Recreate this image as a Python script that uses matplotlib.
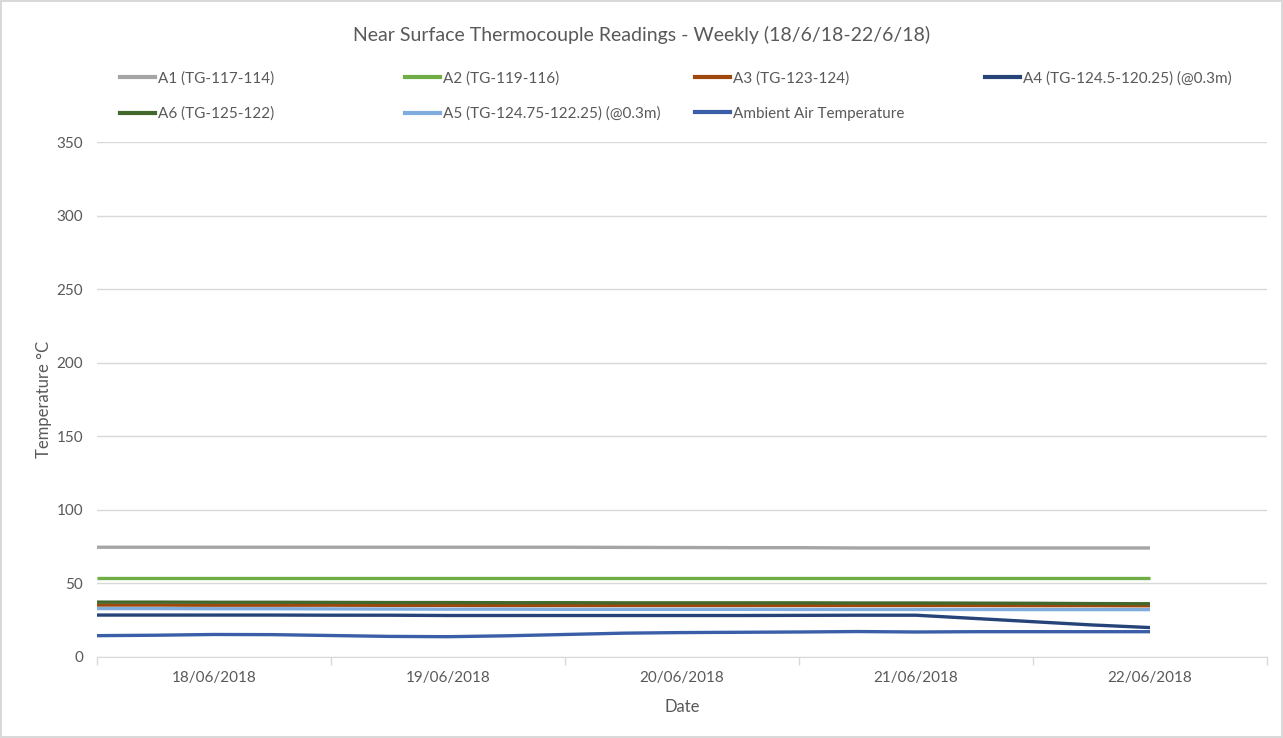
import matplotlib.pyplot as plt
import matplotlib.dates as mdates
from matplotlib.lines import Line2D
import pandas as pd

# readings every 6 hours, 18/06/2018 00:00 to 22/06/2018 12:00
times = pd.date_range("2018-06-18 00:00", "2018-06-22 12:00", freq="6h")

a1 = [74.6, 74.6, 74.6, 74.6, 74.6, 74.6, 74.6, 74.6, 74.6, 74.5,
      74.4, 74.3, 74.3, 74.1, 74.1, 74.1, 74.1, 74.1, 74.1]
a2 = [54.0, 54.0, 54.0, 54.0, 54.0, 54.0, 54.0, 54.0, 54.0, 54.0,
      54.0, 54.0, 54.0, 54.0, 54.0, 54.0, 54.0, 54.0, 54.0]
a3 = [35.3, 35.3, 35.2, 35.2, 35.2, 35.1, 35.1, 35.0, 35.0, 35.0,
      35.0, 35.0, 35.0, 35.0, 35.0, 35.0, 34.9, 34.9, 34.8]
a4 = [28.5, 28.5, 28.5, 28.5, 28.4, 28.4, 28.2, 28.2, 28.2, 28.2,
      28.2, 28.2, 28.3, 28.4, 28.4, 26.2, 24.0, 21.8, 20.0]
a6 = [37.3, 37.3, 37.2, 37.2, 37.1, 37.0, 37.0, 36.9, 36.9, 36.8,
      36.8, 36.8, 36.8, 36.7, 36.7, 36.6, 36.5, 36.3, 36.2]
a5 = [32.9, 32.9, 32.8, 32.8, 32.7, 32.6, 32.5, 32.5, 32.4, 32.4,
      32.4, 32.4, 32.3, 32.3, 32.3, 32.3, 32.2, 32.2, 32.2]
ambient = [14.5, 14.8, 15.3, 15.2, 14.6, 14.0, 13.8, 14.4, 15.3, 16.2,
           16.6, 16.8, 17.0, 17.3, 17.0, 17.2, 17.2, 17.2, 17.2]

series = [
    ("A1 (TG-117-114)", a1, "#A5A5A5"),
    ("A2 (TG-119-116)", a2, "#70AD47"),
    ("A3 (TG-123-124)", a3, "#9E480E"),
    ("A4 (TG-124.5-120.25) (@0.3m)", a4, "#264478"),
    ("A6 (TG-125-122)", a6, "#43682B"),
    ("A5 (TG-124.75-122.25) (@0.3m)", a5, "#7FAEDE"),
    ("Ambient Air Temperature", ambient, "#3A5FA8"),
]

TEXT = "#595959"
GRID = "#D9D9D9"

plt.rcParams["font.family"] = ["Lato", "DejaVu Sans"]

fig = plt.figure(figsize=(12.83, 7.38), dpi=100)
fig.patch.set_edgecolor(GRID)
fig.patch.set_linewidth(1.5)
ax = fig.add_axes([97 / 1283, 1 - 657 / 738, (1267 - 97) / 1283, (657 - 142) / 738])

for name, vals, col in series:
    ax.plot(times, vals, color=col, lw=2.4, label=name, solid_capstyle="butt")

ax.set_ylim(0, 350)
ax.set_yticks(range(0, 351, 50))
ax.set_xlim(pd.Timestamp("2018-06-18"), pd.Timestamp("2018-06-23"))
ax.xaxis.set_major_locator(mdates.DayLocator())
ax.xaxis.set_major_formatter(plt.NullFormatter())
ax.xaxis.set_minor_locator(mdates.HourLocator(byhour=[12]))
ax.xaxis.set_minor_formatter(mdates.DateFormatter("%d/%m/%Y"))
ax.tick_params(axis="x", which="major", length=6, color=GRID, width=1)
ax.tick_params(axis="x", which="minor", length=0, pad=10, labelsize=11, labelcolor=TEXT)
ax.tick_params(axis="y", length=0, pad=10, labelsize=11, labelcolor=TEXT)
ax.grid(axis="y", color=GRID, lw=1)
ax.set_axisbelow(True)
for s in ["top", "right", "left"]:
    ax.spines[s].set_visible(False)
ax.spines["bottom"].set_color(GRID)

ax.set_xlabel("Date", color=TEXT, fontsize=12, labelpad=10)
ax.set_ylabel("Temperature °C", color=TEXT, fontsize=12)
ax.yaxis.set_label_coords(-45 / 1170, 0.5)
fig.text(0.5, 1 - 35 / 738, "Near Surface Thermocouple Readings - Weekly (18/6/18-22/6/18)",
         ha="center", va="center", color=TEXT, fontsize=14)

# legend: 4 columns laid out row-wise like the original
cols = [[0, 4], [1, 5], [2, 6], [3]]
col_x = [120, 405, 695, 985]
for xs, idx in zip(col_x, cols):
    handles = [Line2D([], [], color=series[i][2], lw=3) for i in idx]
    labels = [series[i][0] for i in idx]
    leg = fig.legend(handles, labels, loc="upper left",
                     bbox_to_anchor=(xs / 1283, 1 - 71 / 738), frameon=False,
                     handlelength=2.3, handletextpad=0.2, labelspacing=1.4,
                     fontsize=11, borderaxespad=0, borderpad=0, labelcolor=TEXT)

fig.savefig("out.png", dpi=100)
